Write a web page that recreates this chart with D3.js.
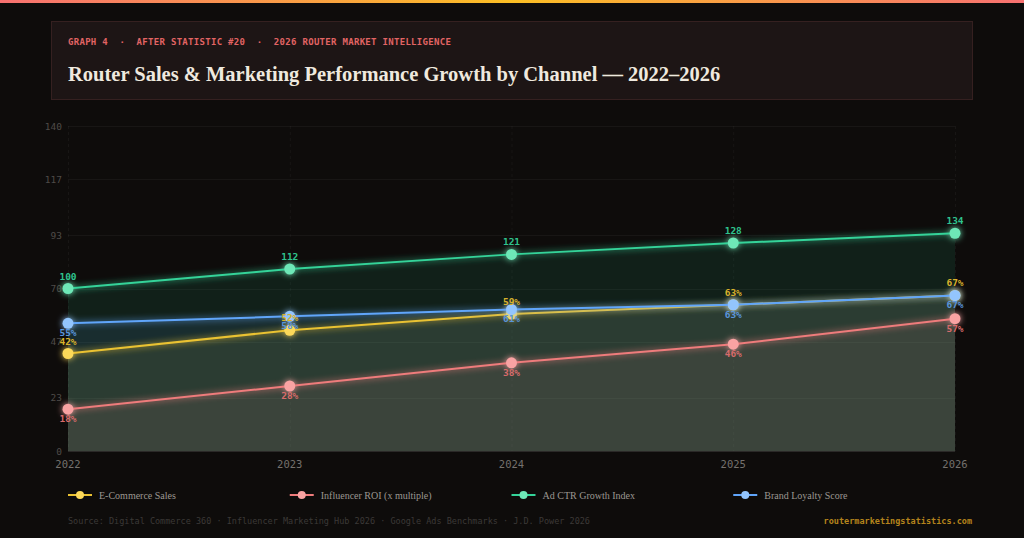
<!DOCTYPE html>
<html>
<head>
<meta charset="utf-8">
<script src="https://cdn.jsdelivr.net/npm/d3@7"></script>
<style>
  html, body { margin: 0; padding: 0; background: #0e0c0b; }
  svg { display: block; }
</style>
</head>
<body>
<svg id="chart" width="1024" height="538"></svg>
<script>
// Data
var years = ["2022", "2023", "2024", "2025", "2026"];
var ecommerce = [42, 52, 59, 63, 67];
var influencer = [18, 28, 38, 46, 57];
var adCtr = [100, 112, 121, 128, 134];
var loyalty = [55, 58, 61, 63, 67];
var yTicks = [0, 23, 47, 70, 93, 117, 140];
var seriesNames = ["E-Commerce Sales", "Influencer ROI (x multiple)", "Ad CTR Growth Index", "Brand Loyalty Score"];

var svg = d3.select("#chart"),
    width = +svg.attr("width"),
    height = +svg.attr("height");

// top gradient bar
var defs = svg.append("defs");
var bar = defs.append("linearGradient").attr("id", "topbar");
bar.append("stop").attr("offset", "0%").attr("stop-color", "#f87171");
bar.append("stop").attr("offset", "50%").attr("stop-color", "#fbbf24");
bar.append("stop").attr("offset", "100%").attr("stop-color", "#f87171");

var glow = defs.append("filter").attr("id", "glow")
    .attr("x", "-20%").attr("y", "-50%").attr("width", "140%").attr("height", "200%");
glow.append("feGaussianBlur").attr("stdDeviation", 3).attr("result", "b");
var merge = glow.append("feMerge");
merge.append("feMergeNode").attr("in", "b");
merge.append("feMergeNode").attr("in", "SourceGraphic");

svg.append("rect").attr("width", width).attr("height", height).attr("fill", "#0e0c0b");
svg.append("rect").attr("width", width).attr("height", 3).attr("fill", "url(#topbar)");

// header box
svg.append("rect")
    .attr("x", 51.5).attr("y", 21.5).attr("width", 921).attr("height", 78)
    .attr("fill", "#1d1515").attr("stroke", "#352020");
svg.append("text")
    .attr("x", 68).attr("y", 45)
    .attr("fill", "#e26464")
    .attr("xml:space", "preserve")
    .style("font", "bold 9px 'DejaVu Sans Mono', monospace")
    .style("letter-spacing", "0.3px")
    .text("GRAPH 4  ·  AFTER STATISTIC #20  ·  2026 ROUTER MARKET INTELLIGENCE");
svg.append("text")
    .attr("x", 68).attr("y", 81)
    .attr("fill", "#efe9df")
    .style("font", "bold 20.5px 'Liberation Serif', serif")
    .text("Router Sales & Marketing Performance Growth by Channel — 2022–2026");

// scales (Ad CTR index sits on its own hidden 0–200 scale)
var x = d3.scalePoint().domain(years).range([68, 955]);
var y = d3.scaleLinear().domain([0, 140]).range([451, 126]);
var y2 = d3.scaleLinear().domain([0, 200]).range([451, 126]);

var series = [
    { name: seriesNames[0], values: ecommerce, scale: y, line: "#eac232", dot: "#fcd95a", label: "#d9b22c", pos: "above", suffix: "%" },
    { name: seriesNames[1], values: influencer, scale: y, line: "#ee7b7b", dot: "#f9a3a3", label: "#d76b6b", pos: "below", suffix: "%" },
    { name: seriesNames[2], values: adCtr, scale: y2, line: "#34d399", dot: "#6ee7b7", label: "#2fc38e", pos: "above", suffix: "" },
    { name: seriesNames[3], values: loyalty, scale: y, line: "#60a5fa", dot: "#93c5fd", label: "#5a95dc", pos: "below", suffix: "%" }
];

// grid
var grid = svg.append("g");
grid.selectAll(".hg").data(yTicks).enter().append("line")
    .attr("x1", 68).attr("x2", 955)
    .attr("y1", function (d) { return Math.round(y(d)) + 0.5; })
    .attr("y2", function (d) { return Math.round(y(d)) + 0.5; })
    .attr("stroke", function (d) { return d === 0 ? "rgba(255,255,255,0.12)" : "rgba(255,255,255,0.045)"; });
grid.selectAll(".vg").data(years).enter().append("line")
    .attr("x1", function (d) { return x(d) + 0.5; })
    .attr("x2", function (d) { return x(d) + 0.5; })
    .attr("y1", 126).attr("y2", 451)
    .attr("stroke", "rgba(255,255,255,0.045)")
    .attr("stroke-dasharray", "3,3");

// y labels
svg.append("g").selectAll("text").data(yTicks).enter().append("text")
    .attr("x", 62).attr("y", function (d) { return y(d) + 3.5; })
    .attr("text-anchor", "end")
    .attr("fill", "#4f4b48")
    .style("font", "9.5px 'DejaVu Sans Mono', monospace")
    .text(function (d) { return d; });

// x labels
svg.append("g").selectAll("text").data(years).enter().append("text")
    .attr("x", function (d) { return x(d); }).attr("y", 468)
    .attr("text-anchor", "middle")
    .attr("fill", "#75716d")
    .style("font", "10.5px 'DejaVu Sans Mono', monospace")
    .text(function (d) { return d; });

// areas
series.forEach(function (s) {
    var area = d3.area()
        .x(function (d, i) { return x(years[i]); })
        .y0(451)
        .y1(function (d) { return s.scale(d); });
    svg.append("path")
        .datum(s.values)
        .attr("d", area)
        .attr("fill", s.line)
        .attr("fill-opacity", 0.1);
});

// lines and points
series.forEach(function (s) {
    var line = d3.line()
        .x(function (d, i) { return x(years[i]); })
        .y(function (d) { return s.scale(d); });
    var g = svg.append("g").attr("filter", "url(#glow)");
    g.append("path")
        .datum(s.values)
        .attr("d", line)
        .attr("fill", "none")
        .attr("stroke", s.line)
        .attr("stroke-width", 2);
    g.selectAll("circle").data(s.values).enter().append("circle")
        .attr("cx", function (d, i) { return x(years[i]); })
        .attr("cy", function (d) { return s.scale(d); })
        .attr("r", 5.5)
        .attr("fill", s.dot);
});

// value labels
series.forEach(function (s) {
    svg.append("g").selectAll("text").data(s.values).enter().append("text")
        .attr("x", function (d, i) { return x(years[i]); })
        .attr("y", function (d) { return s.scale(d) + (s.pos === "above" ? -9 : 13); })
        .attr("text-anchor", "middle")
        .attr("fill", s.label)
        .style("font", "bold 9.5px 'DejaVu Sans Mono', monospace")
        .text(function (d) { return d + s.suffix; });
});

// legend
var legend = svg.append("g").selectAll("g").data(series).enter().append("g")
    .attr("transform", function (d, i) { return "translate(" + x(years[i]) + ",495)"; });
legend.append("line")
    .attr("x1", 0).attr("x2", 24)
    .attr("stroke", function (d) { return d.line; })
    .attr("stroke-width", 2);
legend.append("circle")
    .attr("cx", 12).attr("r", 4)
    .attr("fill", function (d) { return d.dot; });
legend.append("text")
    .attr("x", 31).attr("y", 3.5)
    .attr("fill", "#9c9791")
    .style("font", "10px 'Liberation Serif', serif")
    .text(function (d) { return d.name; });

// footer
svg.append("text")
    .attr("x", 68).attr("y", 524)
    .attr("fill", "#3c3937")
    .style("font", "8.5px 'DejaVu Sans Mono', monospace")
    .text("Source: Digital Commerce 360 · Influencer Marketing Hub 2026 · Google Ads Benchmarks · J.D. Power 2026");
svg.append("text")
    .attr("x", 972).attr("y", 524)
    .attr("text-anchor", "end")
    .attr("fill", "#b5841c")
    .style("font", "bold 8.5px 'DejaVu Sans Mono', monospace")
    .text("routermarketingstatistics.com");
</script>
</body>
</html>
